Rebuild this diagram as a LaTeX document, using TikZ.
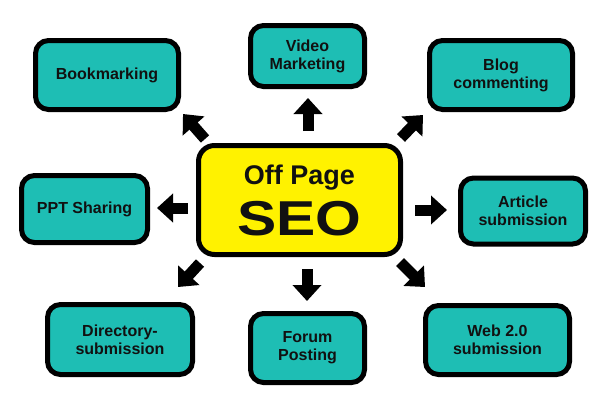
\documentclass[tikz,border=0pt]{standalone}
\usepackage{fontspec}
\setmainfont{Liberation Sans}
\usetikzlibrary{arrows.meta}

\definecolor{boxteal}{RGB}{30,190,180}
\definecolor{seoyellow}{RGB}{255,242,0}
\definecolor{inkblack}{RGB}{17,17,17}

\tikzset{
  topic/.style={draw=black, line width=5pt, fill=boxteal, rounded corners=13pt,
    inner sep=0pt, align=center, text=inkblack,
    font=\bfseries\fontsize{16}{18}\selectfont},
  hub/.style={topic, fill=seoyellow, rounded corners=16pt},
  bigarrow/.style={draw=black, line width=11pt, -{Triangle[length=16pt,width=28pt]}},
}

\begin{document}
\begin{tikzpicture}[x=1pt,y=-1pt]
\useasboundingbox (0,0) rectangle (610,410);

% HUB
\node[hub, minimum width=202, minimum height=109] (seo) at (299.5,200) {%
{\fontsize{27}{30}\selectfont Off Page}\\[10pt]
{\fontsize{49}{49}\selectfont\scalebox{1.2}[1]{SEO}}};

% TOPICS
\path foreach \name/\px/\py/\bw/\bh/\txt in {
  book/107/75/143/69/Bookmarking,
  video/307.5/56/114/61/Video\\Marketing,
  blog/501/75/143/69/Blog\\commenting,
  ppt/84.5/209/126/67/PPT Sharing,
  article/523/211/125/66/Article\\submission,
  dir/120/339.5/145/70/Directory-\\submission,
  forum/307.5/348/114/69/Forum\\Posting,
  web/497.5/340/144/69/Web 2.0\\submission} {
(\px,\py) node[topic, minimum width=\bw, minimum height=\bh] (\name) {\txt}
};

% ARROWS (tail t, head h)
\path foreach \k/\tx/\ty/\hx/\hy in {
  1/308/131/308/98,
  2/401/138/423/115,
  3/205/139/183/114,
  4/188/208/157/208,
  5/415/210/447/210,
  6/200/263/178/287,
  7/307/269/307/301,
  8/400/262/425/287} {
(\tx,\ty) coordinate (t\k) (\hx,\hy) coordinate (h\k)
};
\foreach \k in {1,...,8} { \draw[bigarrow] (t\k) -- (h\k); }

\end{tikzpicture}
\end{document}
